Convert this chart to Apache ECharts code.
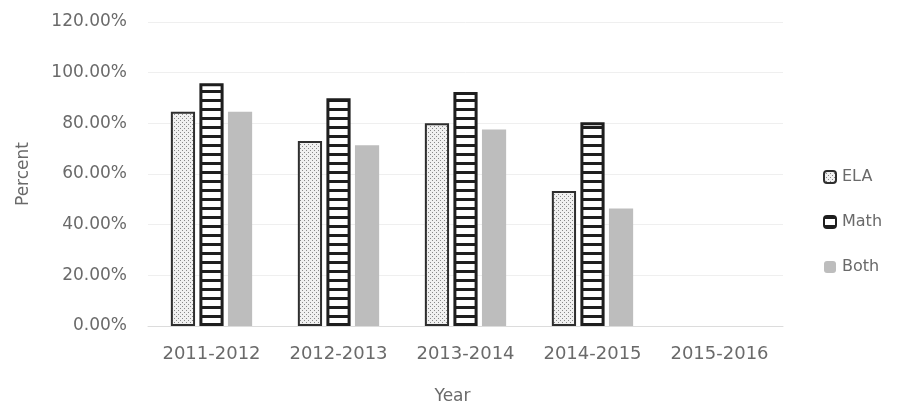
<!DOCTYPE html>
<html>
<head>
<meta charset="utf-8">
<title>Percent by Year</title>
<script src="https://cdn.jsdelivr.net/npm/echarts@6/dist/echarts.min.js"></script>
<style>
  html, body { margin: 0; padding: 0; background: #ffffff; }
  #chart { width: 905px; height: 416px; }
</style>
</head>
<body>
<div id="chart"></div>
<script>
// School years on the category axis
const years = ['2011-2012', '2012-2013', '2013-2014', '2014-2015', '2015-2016'];

// Share of students per subject (percent); 2015-2016 has no data yet
const elaValues  = [84.6, 73.0, 80.0, 53.3, null];
const mathValues = [95.8, 89.9, 92.4, 80.4, null];
const bothValues = [84.6, 71.3, 77.6, 46.4, null];

// Value axis ticks
const yTicks = [0, 20, 40, 60, 80, 100, 120];

const FONT = 'DejaVu Sans';
const TEXT = '#6a6a6a';

// Fine dotted fill for ELA
function dotPattern() {
  const c = document.createElement('canvas');
  c.width = 4; c.height = 4;
  const g = c.getContext('2d');
  g.fillStyle = '#f0f0f0';
  g.fillRect(0, 0, 4, 4);
  g.fillStyle = '#888888';
  g.fillRect(0, 0, 1, 1);
  g.fillRect(2, 2, 1, 1);
  return c;
}

// Horizontal stripes for Math
function stripePattern() {
  const c = document.createElement('canvas');
  c.width = 9; c.height = 9;
  const g = c.getContext('2d');
  g.fillStyle = '#ffffff';
  g.fillRect(0, 0, 9, 9);
  g.fillStyle = '#1e1e1e';
  g.fillRect(0, 0, 9, 3);
  return c;
}

const chart = echarts.init(document.getElementById('chart'), null, { renderer: 'canvas' });

chart.setOption({
  animation: false,
  backgroundColor: '#ffffff',
  textStyle: { fontFamily: FONT, color: TEXT },
  grid: { left: 148, right: 122, top: 22, bottom: 90 },
  legend: {
    orient: 'vertical',
    left: 823,
    top: 169,
    padding: 0,
    itemWidth: 12,
    itemHeight: 12,
    itemGap: 29,
    textStyle: { fontFamily: FONT, fontSize: 16, color: TEXT, padding: [0, 0, 0, 1] },
    data: ['ELA', 'Math', 'Both']
  },
  xAxis: {
    type: 'category',
    data: years,
    name: 'Year',
    nameLocation: 'middle',
    nameGap: 62,
    nameTextStyle: { fontFamily: FONT, fontSize: 17, color: TEXT, padding: [0, 26, 0, 0] },
    axisLine: { show: true, lineStyle: { color: '#dcdcdc', width: 1 } },
    axisTick: { show: false },
    axisLabel: { interval: 0, fontFamily: FONT, fontSize: 18, color: TEXT, margin: 19 }
  },
  yAxis: {
    type: 'value',
    min: yTicks[0],
    max: yTicks[yTicks.length - 1],
    interval: yTicks[1] - yTicks[0],
    name: 'Percent',
    nameLocation: 'middle',
    nameGap: 116,
    nameRotate: 90,
    nameTextStyle: { fontFamily: FONT, fontSize: 17, color: TEXT },
    axisLine: { show: false },
    axisTick: { show: false },
    splitLine: { lineStyle: { color: '#efefef', width: 1 } },
    axisLabel: {
      fontFamily: FONT, fontSize: 17, color: TEXT, margin: 21,
      formatter: v => v.toFixed(2) + '%'
    }
  },
  series: [
    {
      name: 'ELA',
      type: 'bar',
      data: elaValues,
      barGap: '18%',
      barCategoryGap: '36%',
      itemStyle: {
        color: { image: dotPattern(), repeat: 'repeat' },
        borderColor: '#2e2e2e',
        borderWidth: 2
      }
    },
    {
      name: 'Math',
      type: 'bar',
      data: mathValues,
      itemStyle: {
        color: { image: stripePattern(), repeat: 'repeat' },
        borderColor: '#1e1e1e',
        borderWidth: 3
      }
    },
    {
      name: 'Both',
      type: 'bar',
      data: bothValues,
      itemStyle: { color: '#bdbdbd' }
    }
  ]
});
</script>
</body>
</html>
